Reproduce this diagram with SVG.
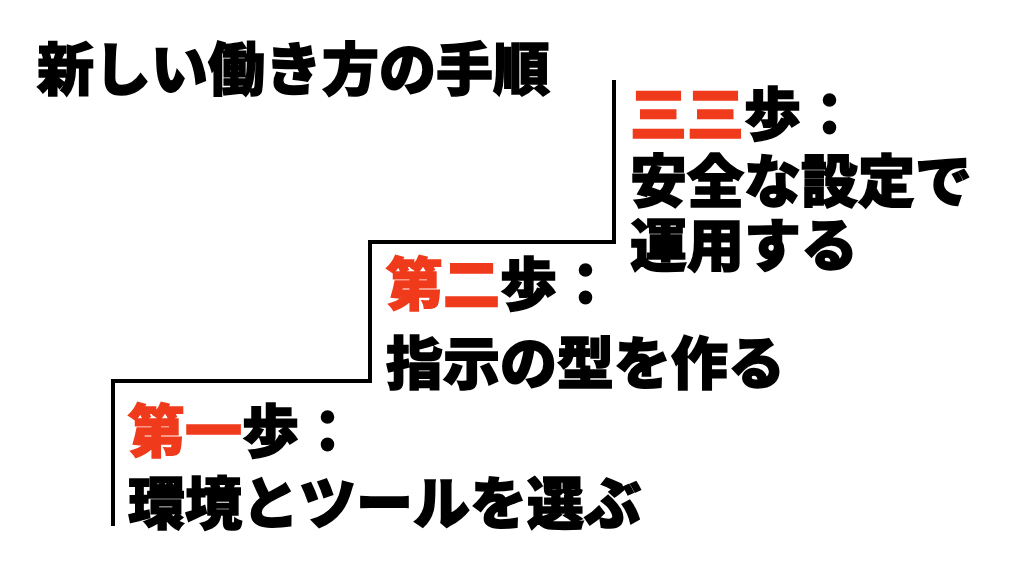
<svg xmlns="http://www.w3.org/2000/svg" width="1024" height="572" viewBox="0 0 1024 572">
<style>
text{font-family:"Noto Sans CJK JP",sans-serif;font-weight:900;fill:#000;stroke:#000;stroke-width:1.5px}
.s{font-size:57px}
.r{fill:#ef3b1c;stroke:#ef3b1c}
</style>
<rect width="1024" height="572" fill="#fff"/>
<g id="connectors"><path d="M113 526V381H370V242H614V80" fill="none" stroke="#000" stroke-width="4"/></g>
<g id="title"><text x="37" y="90" font-size="57">新しい働き方の手順</text></g>
<g id="step3"><text class="s" x="630" y="135"><tspan class="r">三三</tspan>歩：</text><text class="s" x="630" y="202">安全な設定で</text><text class="s" x="630" y="266">運用する</text></g>
<g id="step2"><text class="s" x="386" y="305"><tspan class="r">第二</tspan>歩：</text><text class="s" x="386" y="384">指示の型を作る</text></g>
<g id="step1"><text class="s" x="128" y="452"><tspan class="r">第一</tspan>歩：</text><text class="s" x="128" y="524">環境とツールを選ぶ</text></g>
</svg>
